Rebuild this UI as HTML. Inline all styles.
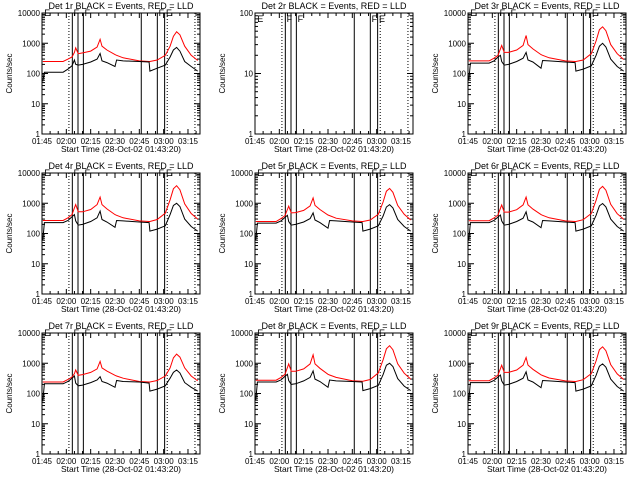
<!DOCTYPE html>
<html><head><meta charset="utf-8"><style>
html,body{margin:0;padding:0;background:#fff;}
svg{display:block;font-family:"Liberation Sans",sans-serif;}
</style></head><body>
<svg id="chart" width="640" height="480" viewBox="0 0 640 480" xmlns="http://www.w3.org/2000/svg">
<rect x="0" y="0" width="640" height="480" fill="#fff"/>
</svg>
<script>
// time in minutes since 00:00
const times = [105.5,106.5,118,121,123.5,125,125.8,127.3,130,135,139,140.8,142,145,150,151,155,165,171,171.5,176,181,184,186,188,190,193,197,201];
const xTickLabels = ["01:45","02:00","02:15","02:30","02:45","03:00","03:15"];
const xTickTimes = [105,120,135,150,165,180,195];
const panelNames = ["Det 1r","Det 2r","Det 3r","Det 4r","Det 5r","Det 6r","Det 7r","Det 8r","Det 9r"];
const solidLines = [123.7,127.2,130.5,166.2,176.1,180.6];
const dottedLines = [121.6,182.2,199.3];
const flagLabels = ["E","F","F","F","E"];
const flagTimes = [105.8,123.9,130.7,176.3,180.8];
const black1 = [55,110,110,140,180,280,200,190,200,240,300,460,260,230,170,280,260,250,240,120,150,190,350,600,730,550,250,170,120];
const red1 = [250,250,250,300,350,500,700,450,480,550,750,1350,800,600,420,400,330,260,250,250,280,400,800,1700,2400,1900,800,400,270];
const black3 = [60,220,220,260,350,400,250,190,200,250,320,500,280,240,150,270,260,240,230,120,140,180,400,800,1000,750,300,170,120];
const red3 = [260,260,260,320,400,650,850,500,500,600,850,1800,900,650,420,400,330,260,250,250,280,450,1200,2800,3500,2600,900,450,290];
const black4 = [60,230,230,270,360,420,260,190,200,250,330,550,290,240,160,270,260,240,230,120,140,180,420,850,1000,780,300,170,120];
const red4 = [270,270,270,330,420,700,900,520,520,620,900,1600,900,650,420,400,330,260,250,250,290,470,1300,3000,3800,2800,950,460,300];
const black5 = [60,220,220,260,340,400,250,190,200,240,310,480,280,230,150,270,260,240,230,120,140,180,380,750,900,700,290,170,120];
const red5 = [250,250,250,310,390,620,800,480,490,580,820,1500,850,620,410,390,320,260,250,250,280,430,1100,2500,3100,2300,850,430,280];
const black6 = [60,230,230,270,350,410,260,190,200,250,320,520,280,240,155,270,260,240,230,120,140,180,400,820,980,760,300,170,120];
const red6 = [265,265,265,325,410,680,880,510,510,610,880,1600,880,640,420,400,330,260,250,250,285,460,1250,2900,3600,2700,920,450,295];
const black7 = [55,210,210,250,320,380,220,180,190,230,280,360,250,220,160,270,250,240,220,120,140,180,320,500,600,480,230,160,120];
const red7 = [240,240,240,290,350,450,600,400,420,500,650,1150,700,550,400,380,320,250,240,240,270,380,700,1500,2000,1600,700,380,260];
const black8 = [60,240,240,280,370,430,270,200,210,260,340,560,300,250,160,280,260,250,240,125,145,185,420,860,1000,780,310,175,125];
const red8 = [275,275,275,340,430,720,950,540,540,650,950,1900,950,680,430,410,340,265,255,255,290,480,1300,3000,3800,2800,960,470,300];
const black9 = [60,230,230,270,350,410,260,190,200,250,320,520,280,240,155,270,260,240,230,120,140,180,400,800,950,740,300,170,120];
const red9 = [265,265,265,325,410,660,860,500,500,600,860,1550,870,630,415,395,325,260,250,250,285,455,1200,2800,3500,2600,900,445,290];
const blackSeries = [black1,null,black3,black4,black5,black6,black7,black8,black9];
const redSeries = [red1,null,red3,red4,red5,red6,red7,red8,red9];

const NS = "http://www.w3.org/2000/svg";
const svg = document.getElementById("chart");
function mk(tag, attrs, parent){
  const e = document.createElementNS(NS, tag);
  for (const k in attrs) e.setAttribute(k, attrs[k]);
  parent.appendChild(e);
  return e;
}
const PL=42, PR=200, PT=13, PB=134;
const T0=105, PXM=1.622;

for (let p=0;p<9;p++){
  const ox = 213*(p%3), oy = 160*Math.floor(p/3);
  const g = mk("g",{transform:`translate(${ox},${oy})`},svg);
  
  
  const decades = (p===1)?2:4;
  const xs = t => PL + (t-T0)*PXM;
  const ys = v => PB - (PB-PT)*Math.log10(Math.max(v,1))/decades;

  const cp = mk("clipPath",{id:"clip"+p},g);
  mk("rect",{x:PL,y:PT-12,width:PR-PL,height:PB-PT+12},cp);

  const title = mk("text",{x:121,y:9,"font-size":"9","text-anchor":"middle",fill:"#000"},g);
  title.textContent = panelNames[p]+" BLACK = Events, RED = LLD";
  
  

  const fr = mk("rect",{x:PL,y:PT,width:PR-PL,height:PB-PT,fill:"none",stroke:"#000","stroke-width":"1"},g);
  
  

  for (let t=T0; t<=200; t+=5){
    const x = xs(t);
    const major = ((t-T0)%15===0);
    const L = major?5:3;
    mk("line",{x1:x,y1:PB,x2:x,y2:PB-L,stroke:"#000"},g);
    mk("line",{x1:x,y1:PT,x2:x,y2:PT+L,stroke:"#000"},g);
  }
  xTickTimes.forEach((t,i)=>{
    const tx = mk("text",{x:xs(t),y:PB+10,"font-size":"8","text-anchor":"middle"},g);
    tx.textContent = xTickLabels[i];
    
    
  });
  const xl = mk("text",{x:121,y:PB+18,"font-size":"8.5","text-anchor":"middle"},g);
  xl.textContent = "Start Time (28-Oct-02 01:43:20)";
  
  

  for (let d=0; d<=decades; d++){
    const v = Math.pow(10,d);
    const y = ys(v);
    mk("line",{x1:PL,y1:y,x2:PL+6,y2:y,stroke:"#000"},g);
    mk("line",{x1:PR,y1:y,x2:PR-6,y2:y,stroke:"#000"},g);
    const ty = mk("text",{x:PL-2,y:y+3,"font-size":"8","text-anchor":"end"},g);
    ty.textContent = String(v);
    
    
    if (d<decades){
      for (let m=2;m<10;m++){
        const ym = ys(v*m);
        mk("line",{x1:PL,y1:ym,x2:PL+3,y2:ym,stroke:"#000"},g);
        mk("line",{x1:PR,y1:ym,x2:PR-3,y2:ym,stroke:"#000"},g);
      }
    }
  }
  const yl = mk("text",{x:0,y:0,"font-size":"8","text-anchor":"middle",transform:`translate(12,${(PT+PB)/2}) rotate(-90)`},g);
  yl.textContent = "Counts/sec";
  
  

  solidLines.forEach(t=>{
    const l = mk("line",{x1:xs(t),y1:PT,x2:xs(t),y2:PB,stroke:"#000"},g);
    
    
  });
  dottedLines.forEach(t=>{
    const l = mk("line",{x1:xs(t),y1:PT,x2:xs(t),y2:PB,stroke:"#000","stroke-dasharray":"1,2"},g);
    
    
  });
  flagTimes.forEach((t,i)=>{
    const f = mk("text",{x:xs(t)+1,y:PT+(p===1?9:3),"font-size":"9"},g);
    f.textContent = flagLabels[i];
    
    
  });

  const bl = blackSeries[p], rd = redSeries[p];
  if (bl){
    const cg = mk("g",{"clip-path":`url(#clip${p})`},g);
    const rpts = times.map((t,i)=>xs(t).toFixed(1)+","+ys(rd[i]).toFixed(1)).join(" ");
    const rl = mk("polyline",{points:rpts,fill:"none",stroke:"#ff0000","stroke-width":"1"},cg);
    
    
    const bpts = times.map((t,i)=>xs(t).toFixed(1)+","+ys(bl[i]).toFixed(1)).join(" ");
    const blk = mk("polyline",{points:bpts,fill:"none",stroke:"#000","stroke-width":"1"},cg);
    
    
  }
}
</script>
</body></html>
